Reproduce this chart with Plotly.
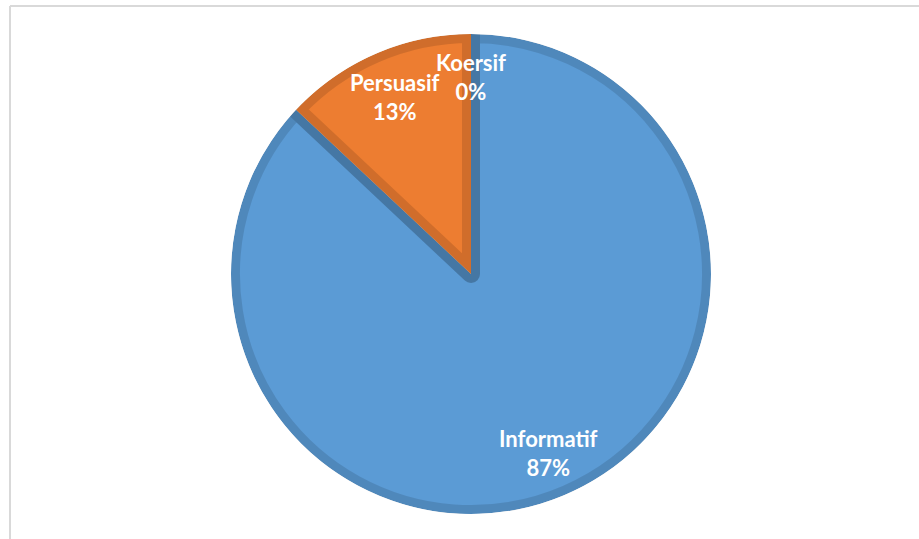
import plotly.graph_objects as go

labels = ["Informatif", "Persuasif", "Koersif"]
values = [87, 13, 0]
colors = ["#5B9BD5", "#ED7D31", "#A5A5A5"]

total = sum(values)
pcts = [round(v / total * 100) for v in values]

W, H = 919, 539
cx, cy, r = 471, 265, 240  # pixel center (from bottom) and radius
bw = 9                     # inset band width (per side)


def dom(rad):
    return dict(x=[(cx - rad) / W, (cx + rad) / W], y=[(cy - rad) / H, (cy + rad) / H])


fig = go.Figure()
fig.add_trace(go.Pie(
    labels=labels, values=values, sort=False, direction="clockwise", rotation=0,
    textinfo="none", hoverinfo="label+percent", showlegend=False,
    marker=dict(colors=colors, line=dict(color="rgba(0,0,0,0.12)", width=[2 * bw, 2 * bw, 0])),
    domain=dom(r),
))
# white ring trimming the stroke spill outside the rim
ro = r + bw + 2
fig.add_trace(go.Pie(
    values=[1], hole=r / ro, sort=False, textinfo="none", hoverinfo="skip", showlegend=False,
    marker=dict(colors=["white"], line=dict(width=0)),
    domain=dom(ro),
))

# label positions (pixels from top-left)
label_pos = [(548, 453), (395, 97), (471, 77)]
anns = []
for (px, py), lab, p in zip(label_pos, labels, pcts):
    anns.append(dict(
        x=px / W, y=1 - py / H, xref="paper", yref="paper",
        text=f"{lab}<br>{p}%", showarrow=False,
        font=dict(family="Lato", size=22, color="white", weight="bold"),
        align="center", xanchor="center", yanchor="middle",
    ))

fig.update_layout(
    width=W, height=H,
    margin=dict(l=0, r=0, t=0, b=0),
    paper_bgcolor="white",
    plot_bgcolor="white",
    annotations=anns,
    shapes=[
        dict(type="line", xref="paper", yref="paper", x0=10 / W, x1=1.02, y0=1 - 6 / H, y1=1 - 6 / H,
             line=dict(color="#D9D9D9", width=2)),
        dict(type="line", xref="paper", yref="paper", x0=10 / W, x1=10 / W, y0=-0.02, y1=1 - 6 / H,
             line=dict(color="#D9D9D9", width=2)),
    ],
)

fig.write_html("out.html")
